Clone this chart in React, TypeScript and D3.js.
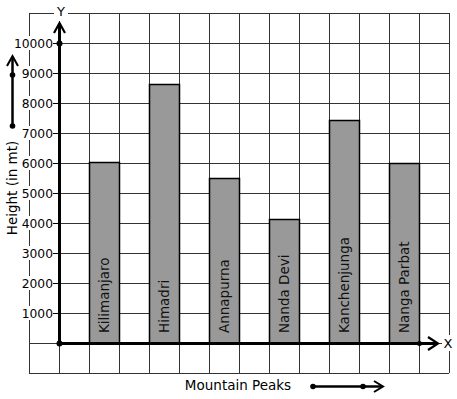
import React from "react";
import * as d3 from "d3";

const peaks = ["Kilimanjaro", "Himadri", "Annapurna", "Nanda Devi", "Kanchenjunga", "Nanga Parbat"];
const heights = [6020, 8650, 5490, 4150, 7430, 5990];
const yTicks = [1000, 2000, 3000, 4000, 5000, 6000, 7000, 8000, 9000, 10000];
const gridRows = d3.range(-1000, 11001, 1000);

const W = 457, H = 399;
const FONT = "DejaVu Sans, sans-serif";

export default function App() {
  const x = d3.scaleBand<string>().domain(peaks).range([89, 419]).paddingInner(0.5).paddingOuter(0);
  const y = d3.scaleLinear().domain([0, 10000]).range([343, 43]);
  const colX = d3.scaleLinear().domain([0, 1]).range([59, 89]); // one grid column = 30px
  const x0 = colX(0), yZero = y(0);
  const left = colX(-1), right = colX(13);
  const top = y(11000), bottom = y(-1000);
  const gridStroke = "#333";
  const h = (v: number) => Math.round(v) + 0.5;

  return (
    <svg width={W} height={H} style={{ position: "absolute", left: 0, top: 0, background: "#fff" }}>
      <rect x={0} y={0} width={W} height={H} fill="#fff" />
      {/* grid */}
      {gridRows.map((v) => (
        <line key={"r" + v} x1={left} x2={right} y1={h(y(v))} y2={h(y(v))} stroke={gridStroke} strokeWidth={1} />
      ))}
      {d3.range(-1, 14).map((c) => (
        <line key={"c" + c} x1={h(colX(c))} x2={h(colX(c))} y1={top} y2={bottom} stroke={gridStroke} strokeWidth={1} />
      ))}
      {/* bars */}
      {peaks.map((p, i) => (
        <rect key={p} x={h(x(p)!)} y={h(y(heights[i]))} width={x.bandwidth()} height={yZero - y(heights[i])}
          fill="#999" stroke="#000" strokeWidth={1.5} />
      ))}
      {peaks.map((p, i) => {
        const cx = x(p)! + x.bandwidth() / 2;
        return (
          <text key={"t" + p} transform={`translate(${cx + 5},${333}) rotate(-90)`} fontFamily={FONT}
            fontSize={13.5} fill="#111">{p}</text>
        );
      })}
      {/* y tick labels */}
      {yTicks.map((v) => (
        <g key={"yt" + v}>
          <rect x={53 - String(v).length * 7.65 - 1} y={y(v) - 7} width={String(v).length * 7.65 + 1} height={14} fill="#fff" />
          <text x={53} y={y(v) + 4.5} textAnchor="end" fontFamily={FONT} fontSize={12.3} fill="#000">{v}</text>
          <line x1={53} x2={x0} y1={h(y(v))} y2={h(y(v))} stroke="#000" strokeWidth={1} />
        </g>
      ))}
      {/* y axis */}
      <line x1={x0 + 0.5} x2={x0 + 0.5} y1={yZero} y2={24} stroke="#000" strokeWidth={3} />
      <polyline points={`${x0 - 5},${33} ${x0 + 0.5},${23} ${x0 + 6},${33}`} fill="none" stroke="#000" strokeWidth={2.2} />
      <circle cx={x0 + 0.5} cy={y(10000) + 0.5} r={3} fill="#000" />
      <circle cx={x0 + 0.5} cy={yZero + 0.5} r={3} fill="#000" />
      <rect x={54} y={5} width={14} height={16} fill="#fff" />
      <text x={61} y={16} textAnchor="middle" fontFamily={FONT} fontSize={13} fill="#000">Y</text>
      {/* x axis */}
      <line x1={x0} x2={437} y1={yZero + 0.5} y2={yZero + 0.5} stroke="#000" strokeWidth={3} />
      <polyline points={`${428},${337} ${438},${343.5} ${428},${350}`} fill="none" stroke="#000" strokeWidth={2.2} />
      <circle cx={419.5} cy={yZero + 0.5} r={2.5} fill="#000" />
      <rect x={442} y={335} width={13} height={16} fill="#fff" />
      <text x={448} y={348} textAnchor="middle" fontFamily={FONT} fontSize={13} fill="#000">X</text>
      {/* axis titles */}
      <text transform={`translate(${17},${188}) rotate(-90)`} textAnchor="middle" fontFamily={FONT} fontSize={13.5} fill="#000">Height (in mt)</text>
      <text x={238} y={390} textAnchor="middle" fontFamily={FONT} fontSize={13.5} fill="#000">Mountain Peaks</text>
      {/* decorative arrows */}
      <line x1={12.5} x2={12.5} y1={126} y2={57} stroke="#000" strokeWidth={2.5} />
      <polyline points={`7,66 12.5,56 18,66`} fill="none" stroke="#000" strokeWidth={2} />
      <circle cx={12.5} cy={126} r={2.8} fill="#000" />
      <circle cx={12.5} cy={75} r={2.8} fill="#000" />
      <line x1={313} x2={382} y1={386.5} y2={386.5} stroke="#000" strokeWidth={2.5} />
      <polyline points={`374,381 383,386.5 374,392`} fill="none" stroke="#000" strokeWidth={2} />
      <circle cx={313} cy={386.5} r={2.8} fill="#000" />
      <circle cx={363} cy={386.5} r={2.8} fill="#000" />
    </svg>
  );
}
